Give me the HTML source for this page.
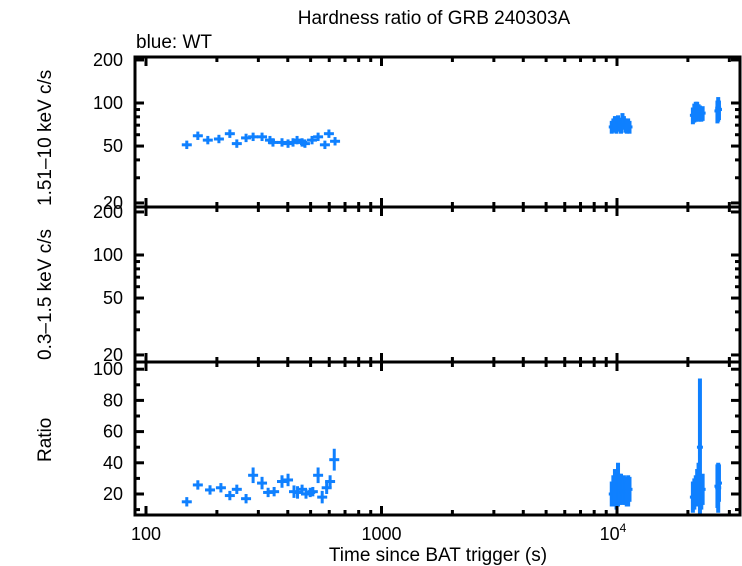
<!DOCTYPE html>
<html><head><meta charset="utf-8"><style>
body{margin:0;background:#fff;}
svg{display:block;font-family:"Liberation Sans",sans-serif;}
</style></head><body>
<svg id="c" width="742" height="566"></svg>
<script>
const rateT=[149,166,183,204,227,243,266,285,311,336,346,378,401,421,438,460,473,507,538,575,598,635];
const rateV=[51,59,55,56,61,52,57,58,58,55,53,53,52,53,55,53,52,55,58,51,61,54];
const ratioT=[149,166,187,208,227,243,266,285,311,330,350,378,401,425,440,460,478,498,511,538,560,585,605,630];
const ratioV=[15,25.8,22.6,24,19,23,17,32,27,21,21.5,28,29,21.5,21,23,20,21,21.5,32,18,24,28,42];
const ratioE=[3,3,3,3,3,3,3,5,4,3,3,4,4,4,4,3,3,3,3,5,4,4,4,7];
const lateT=[9500,9650,9800,9950,10100,10250,10400,10550,10700,10850,11000,11150,11300,21000,21300,21600,21900,22200,22500,22800,23100,26700,26900,27100];
const lateRate=[68,70,72,70,74,71,69,76,73,70,69,70,68,82,86,88,90,86,86,84,85,88,92,90];
const lateRateE=[7,8,9,9,8,8,8,9,8,8,8,8,7,11,13,14,12,12,10,10,10,16,18,14];
const lateRatio=[20,22,24,22,26,23,24,21,24,22,20,22,23,18,20,22,24,26,50,20,23,25,24,27];
const lateRatioE=[8,10,12,12,14,10,9,8,8,9,8,10,8,10,10,10,12,14,44,10,10,14,16,12];

const L=135,R=740;
const x=t=>146+235.5*Math.log10(t/100);
const yTop=v=>103-143*Math.log10(v/100);
const yMid=v=>255-143*Math.log10(v/100);
const yBot=v=>494-(v-20)*1.56;
const svg=document.getElementById('c');
const NS='http://www.w3.org/2000/svg';
function el(tag,a,parent){const e=document.createElementNS(NS,tag);for(const k in a)e.setAttribute(k,a[k]);(parent||svg).appendChild(e);return e;}
function txt(s,xx,yy,anchor,size,name,rot){const e=el('text',{x:xx,y:yy,'text-anchor':anchor,'font-size':size,fill:'#000'});if(rot)e.setAttribute('transform',`rotate(-90 ${xx} ${yy})`);e.textContent=s;

return e;}

const C='#0f80ff';
function cross(g,cx,cy,hx,y1,y2,w,name){
 const a=el('line',{x1:cx-hx,x2:cx+hx,y1:cy,y2:cy,stroke:C,'stroke-width':3},g);
 
 
 const b=el('line',{x1:cx,x2:cx,y1:y1,y2:y2,stroke:C,'stroke-width':w},g);
 
 
}
const gr=el('g',{});


rateT.forEach((t,i)=>{const v=rateV[i];cross(gr,x(t),yTop(v),5,yTop(v*1.07),yTop(v/1.07),3,'rate-point');});
lateT.forEach((t,i)=>{const v=lateRate[i],e=lateRateE[i];cross(gr,x(t),yTop(v),3,yTop(v+e),yTop(v-e),4,'rate-point-late');});
const gq=el('g',{});


ratioT.forEach((t,i)=>{const v=ratioV[i],e=ratioE[i];cross(gq,x(t),yBot(v),5,yBot(v+e),yBot(v-e),3,'ratio-point');});
lateT.forEach((t,i)=>{const v=lateRatio[i],e=lateRatioE[i];cross(gq,x(t),yBot(v),3,yBot(v+e),yBot(v-e),4,'ratio-point-late');});

const panels=[[57,207,'top-panel'],[207,362,'middle-panel'],[362,515,'bottom-panel']];
panels.forEach(p=>{const r=el('rect',{x:L,y:p[0],width:R-L,height:p[1]-p[0],fill:'none',stroke:'#000','stroke-width':3});

});
const xt=[];for(let d=100;d<=10000;d*=10)for(let m=1;m<=9;m++)xt.push(d*m);xt.push(100000);
xt.forEach(t=>{const xx=x(t);if(xx<L||xx>R)return;const maj=[100,1000,10000].includes(t);const len=maj?9:5;
 panels.forEach(p=>{el('line',{x1:xx,x2:xx,y1:p[0]-(maj&&p[0]>57?len:0),y2:p[0]+len,stroke:'#000','stroke-width':3});el('line',{x1:xx,x2:xx,y1:p[1]-len,y2:p[1]+(maj&&p[1]<515?len:0),stroke:'#000','stroke-width':3});});});
function logTicks(f,top,bot){[20,30,40,50,60,70,80,90,100,200].forEach(v=>{const yy=f(v);if(yy<top-1||yy>bot+1)return;const maj=[20,50,100,200].includes(v);const len=maj?9:5;
 el('line',{x1:L,x2:L+len,y1:yy,y2:yy,stroke:'#000','stroke-width':3});el('line',{x1:R-len,x2:R,y1:yy,y2:yy,stroke:'#000','stroke-width':3});});}
logTicks(yTop,57,207);logTicks(yMid,207,362);
for(let v=10;v<=100;v+=10){const yy=yBot(v);const maj=v%20==0;const len=maj?9:5;el('line',{x1:L,x2:L+len,y1:yy,y2:yy,stroke:'#000','stroke-width':3});el('line',{x1:R-len,x2:R,y1:yy,y2:yy,stroke:'#000','stroke-width':3});}
[[200,'200'],[100,'100'],[50,'50'],[20,'20']].forEach(a=>{txt(a[1],123,yTop(a[0])+6,'end',18,'top-y-tick');txt(a[1],123,yMid(a[0])+6,'end',18,'middle-y-tick');});
[20,40,60,80,100].forEach(v=>txt(String(v),123,yBot(v)+6,'end',18,'bottom-y-tick'));
txt('100',x(100),540,'middle',18,'x-tick-100');
txt('1000',x(1000),540,'middle',18,'x-tick-1000');
const t4=txt('10',x(10000)-4,540,'middle',18,'x-tick-10000');
const sp=el('tspan',{dy:-8,'font-size':12},t4);sp.textContent='4';
txt('Time since BAT trigger (s)',438,561,'middle',19,'x-axis-title');
txt('Hardness ratio of GRB 240303A',434,24,'middle',19,'chart-title');
txt('blue: WT',136,48,'start',19,'legend-label');
txt('1.51–10 keV c/s',51,206,'start',19,'top-y-axis-title',true);
txt('0.3–1.5 keV c/s',51,360,'start',19,'middle-y-axis-title',true);
txt('Ratio',51,462,'start',19,'bottom-y-axis-title',true);
</script>
</body></html>
